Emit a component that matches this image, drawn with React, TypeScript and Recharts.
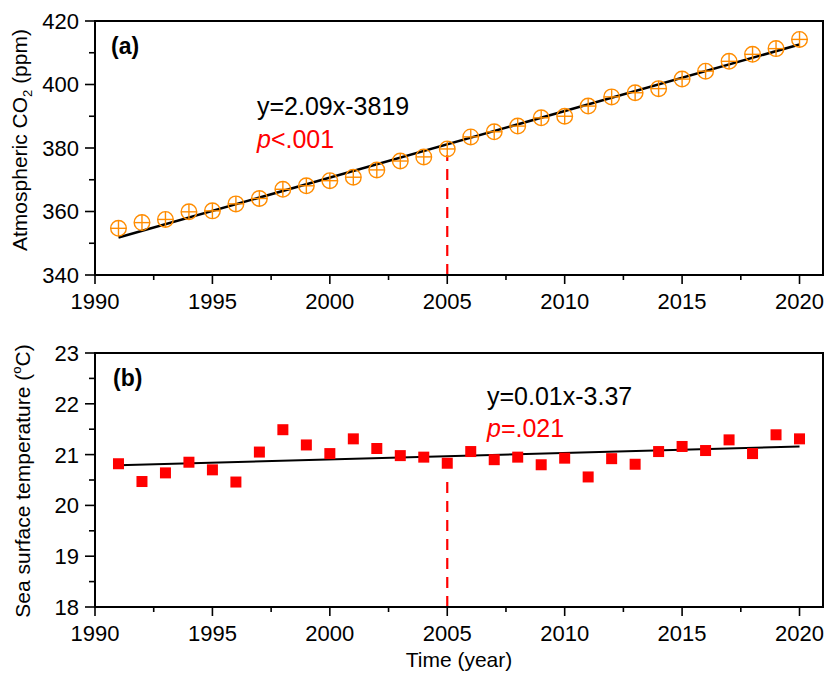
import React from 'react';
import { ComposedChart, Line, XAxis, YAxis, ReferenceArea } from 'recharts';

const years = [1991, 1992, 1993, 1994, 1995, 1996, 1997, 1998, 1999, 2000, 2001, 2002, 2003, 2004, 2005, 2006, 2007, 2008, 2009, 2010, 2011, 2012, 2013, 2014, 2015, 2016, 2017, 2018, 2019, 2020];
const co2Values = [354.7, 356.5, 357.5, 359.9, 360.2, 362.4, 364.1, 367.0, 368.1, 369.7, 370.8, 373.1, 375.9, 377.2, 379.7, 383.5, 385.1, 386.9, 389.5, 390.0, 393.2, 396.1, 397.4, 398.7, 401.7, 404.2, 407.3, 409.5, 411.3, 414.2];
const sstValues = [20.82, 20.47, 20.64, 20.85, 20.7, 20.46, 21.05, 21.49, 21.19, 21.02, 21.31, 21.12, 20.98, 20.95, 20.83, 21.06, 20.9, 20.95, 20.8, 20.93, 20.56, 20.92, 20.81, 21.06, 21.16, 21.08, 21.29, 21.02, 21.39, 21.31];

const fitYears = [1991, 2020];
const co2FitValues = [351.8, 412.6];
const sstFitValues = [20.79, 21.16];

const guideYears = [2005, 2005];
const co2GuideValues = [340, 377.8];
const sstGuideValues = [18, 20.5];

const xTicks = [1990, 1992.5, 1995, 1997.5, 2000, 2002.5, 2005, 2007.5, 2010, 2012.5, 2015, 2017.5, 2020];
const co2Ticks = [340, 350, 360, 370, 380, 390, 400, 410, 420];
const sstTicks = [18, 18.5, 19, 19.5, 20, 20.5, 21, 21.5, 22, 22.5, 23];

const co2Data = years.map((x, i) => ({ x, y: co2Values[i] }));
const sstData = years.map((x, i) => ({ x, y: sstValues[i] }));
const co2Fit = fitYears.map((x, i) => ({ x, y: co2FitValues[i] }));
const sstFit = fitYears.map((x, i) => ({ x, y: sstFitValues[i] }));
const co2Guide = guideYears.map((x, i) => ({ x, y: co2GuideValues[i] }));
const sstGuide = guideYears.map((x, i) => ({ x, y: sstGuideValues[i] }));

const FONT = 'Liberation Sans, Arial, sans-serif';
const ORANGE = '#FF8C00';
const RED = '#FF0000';
const TICK_FS = 22;
const ANN_FS = 25;

const XTick = (props: any) => {
  const { x, y, payload } = props;
  const v = payload.value;
  const major = Math.abs(v % 5) < 1e-6;
  return (
    <g>
      <line x1={x} x2={x} y1={y} y2={y + (major ? 9 : 5)} stroke="#000" strokeWidth={1.6} />
      {major && (
        <text x={x} y={y + 34} textAnchor="middle" fontSize={TICK_FS} fontFamily={FONT} fill="#000">
          {v}
        </text>
      )}
    </g>
  );
};

const makeYTick = (isMajor: (v: number) => boolean) => (props: any) => {
  const { x, y, payload } = props;
  const v = payload.value;
  const major = isMajor(v);
  return (
    <g>
      <line x1={x} x2={x - (major ? 10 : 6)} y1={y} y2={y} stroke="#000" strokeWidth={1.6} />
      {major && (
        <text x={x - 16} y={y} dy="0.36em" textAnchor="end" fontSize={TICK_FS} fontFamily={FONT} fill="#000">
          {v}
        </text>
      )}
    </g>
  );
};

const CO2Tick = makeYTick((v) => v % 20 === 0);
const SSTTick = makeYTick((v) => Math.abs(v - Math.round(v)) < 1e-6);

const CircleMarker = (props: any) => {
  const { cx, cy } = props;
  if (cx == null || cy == null) return null;
  const r = 7.8;
  return (
    <g>
      <circle cx={cx} cy={cy} r={r} fill="none" stroke={ORANGE} strokeWidth={1.4} />
      <line x1={cx - r} x2={cx + r} y1={cy} y2={cy} stroke={ORANGE} strokeWidth={1.4} />
      <line x1={cx} x2={cx} y1={cy - r} y2={cy + r} stroke={ORANGE} strokeWidth={1.4} />
    </g>
  );
};

const SquareMarker = (props: any) => {
  const { cx, cy } = props;
  if (cx == null || cy == null) return null;
  const s = 11;
  return <rect x={cx - s / 2} y={cy - s / 2} width={s} height={s} fill={RED} />;
};

export default function App() {
  return (
    <div style={{ position: 'absolute', left: 0, top: 0, width: 825, height: 673, background: '#fff', fontFamily: FONT }}>
      <div style={{ position: 'absolute', left: 0, top: 0 }}>
        <ComposedChart width={825} height={320} margin={{ top: 21, right: 2, left: 0, bottom: 0 }}>
          <XAxis
            dataKey="x"
            type="number"
            domain={[1990, 2021]}
            ticks={xTicks}
            interval={0}
            allowDataOverflow
            height={45}
            tickSize={0}
            tickMargin={0}
            tickLine={false}
            tick={<XTick />}
            axisLine={{ stroke: '#000', strokeWidth: 2 }}
          />
          <YAxis
            type="number"
            domain={[340, 420]}
            ticks={co2Ticks}
            interval={0}
            allowDataOverflow
            width={95}
            tickSize={0}
            tickMargin={0}
            tickLine={false}
            tick={<CO2Tick />}
            axisLine={{ stroke: '#000', strokeWidth: 2 }}
          />
          <ReferenceArea x1={1990} x2={2021} y1={340} y2={420} fill="none" stroke="#000" strokeWidth={2} ifOverflow="visible" />
          <Line data={co2Guide} dataKey="y" stroke={RED} strokeWidth={2.2} strokeDasharray="11 8" dot={false} activeDot={false} isAnimationActive={false} />
          <Line
            data={co2Data}
            dataKey="y"
            stroke="none"
            dot={(p: any) => <CircleMarker key={p.index} {...p} />}
            activeDot={false}
            isAnimationActive={false}
          />
          <Line data={co2Fit} dataKey="y" stroke="#000" strokeWidth={2.5} dot={false} activeDot={false} isAnimationActive={false} />
          <text x={111} y={54} fontSize={23} fontWeight="bold" fontFamily={FONT} fill="#000">(a)</text>
          <text x={257} y={115} fontSize={ANN_FS} fontFamily={FONT} fill="#000">y=2.09x-3819</text>
          <text x={257} y={148} fontSize={ANN_FS} fontFamily={FONT} fill={RED}>
            <tspan fontStyle="italic">p</tspan>
            <tspan>&lt;.001</tspan>
          </text>
          <text x={27} y={140} transform="rotate(-90 27 140)" textAnchor="middle" fontSize={21} fontFamily={FONT} fill="#000">
            <tspan>Atmospheric CO</tspan>
            <tspan fontSize={13} dy={5}>2</tspan>
            <tspan dy={-5}> (ppm)</tspan>
          </text>
        </ComposedChart>
      </div>
      <div style={{ position: 'absolute', left: 0, top: 320 }}>
        <ComposedChart width={825} height={353} margin={{ top: 33, right: 2, left: 0, bottom: 0 }}>
          <XAxis
            dataKey="x"
            type="number"
            domain={[1990, 2021]}
            ticks={xTicks}
            interval={0}
            allowDataOverflow
            height={66}
            tickSize={0}
            tickMargin={0}
            tickLine={false}
            tick={<XTick />}
            axisLine={{ stroke: '#000', strokeWidth: 2 }}
          />
          <YAxis
            type="number"
            domain={[18, 23]}
            ticks={sstTicks}
            interval={0}
            allowDataOverflow
            width={95}
            tickSize={0}
            tickMargin={0}
            tickLine={false}
            tick={<SSTTick />}
            axisLine={{ stroke: '#000', strokeWidth: 2 }}
          />
          <ReferenceArea x1={1990} x2={2021} y1={18} y2={23} fill="none" stroke="#000" strokeWidth={2} ifOverflow="visible" />
          <Line data={sstGuide} dataKey="y" stroke={RED} strokeWidth={2.2} strokeDasharray="11 8" dot={false} activeDot={false} isAnimationActive={false} />
          <Line
            data={sstData}
            dataKey="y"
            stroke="none"
            dot={(p: any) => <SquareMarker key={p.index} {...p} />}
            activeDot={false}
            isAnimationActive={false}
          />
          <Line data={sstFit} dataKey="y" stroke="#000" strokeWidth={2} dot={false} activeDot={false} isAnimationActive={false} />
          <text x={113} y={66} fontSize={23} fontWeight="bold" fontFamily={FONT} fill="#000">(b)</text>
          <text x={487} y={85} fontSize={ANN_FS} fontFamily={FONT} fill="#000">y=0.01x-3.37</text>
          <text x={487} y={117} fontSize={ANN_FS} fontFamily={FONT} fill={RED}>
            <tspan fontStyle="italic">p</tspan>
            <tspan>=.021</tspan>
          </text>
          <text x={30} y={161} transform="rotate(-90 30 161)" textAnchor="middle" fontSize={21} fontFamily={FONT} fill="#000">
            <tspan>Sea surface temperature (</tspan>
            <tspan fontSize={13} dy={-9}>o</tspan>
            <tspan dy={9}>C)</tspan>
          </text>
          <text x={459} y={347} textAnchor="middle" fontSize={21} fontFamily={FONT} fill="#000">Time (year)</text>
        </ComposedChart>
      </div>
    </div>
  );
}
